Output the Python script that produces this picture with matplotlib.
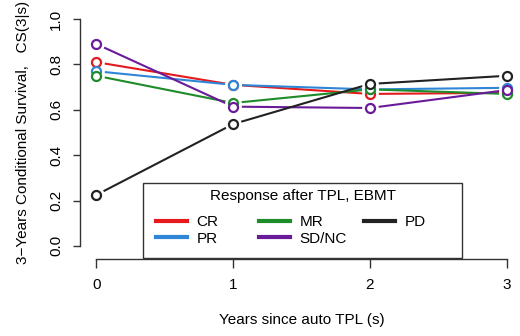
import matplotlib.pyplot as plt
from matplotlib.patches import Rectangle

plt.rcParams['font.family'] = ['Liberation Sans', 'DejaVu Sans']

years = [0, 1, 2, 3]
cr = [0.81, 0.71, 0.67, 0.675]
pr = [0.77, 0.71, 0.69, 0.697]
mr = [0.75, 0.63, 0.69, 0.67]
sdnc = [0.89, 0.614, 0.608, 0.687]
pd_ = [0.225, 0.537, 0.714, 0.75]

series = [cr, pr, mr, sdnc, pd_]
labels = ["CR", "PR", "MR", "SD/NC", "PD"]
colors = ["#E41A1C", "#2F86D6", "#1E8C28", "#6A1B9A", "#222222"]

W, H = 520, 336
fig = plt.figure(figsize=(W / 100, H / 100), dpi=100)
ax = fig.add_axes([80 / W, 81 / H, 443 / W, 245 / H])

handles = []
for vals, lab, col in zip(series, labels, colors):
    h, = ax.plot(years, vals, color=col, lw=1.5, label=lab, zorder=2)
    handles.append(h)
# white backing so the lines stop short of the circles, like R's type="b"
for vals in series:
    ax.plot(years, vals, ls='none', marker='o', ms=11, mfc='white', mec='white', zorder=3)
for vals, col in zip(series, colors):
    ax.plot(years, vals, ls='none', marker='o', ms=6.5, mfc='white', mec=col, mew=1.6, zorder=4)

ax.set_xlim(-0.12, 3.12)
ax.set_ylim(-0.04, 1.04)
ax.spines['top'].set_visible(False)
ax.spines['right'].set_visible(False)
ax.spines['left'].set_bounds(0, 1)
ax.spines['bottom'].set_bounds(0, 3)
ax.spines['bottom'].set_position(('outward', 3))
for s in ['left', 'bottom']:
    ax.spines[s].set_color('#333333')
    ax.spines[s].set_linewidth(1)
ax.set_xticks([0, 1, 2, 3])
ax.set_yticks([0.0, 0.2, 0.4, 0.6, 0.8, 1.0])
ax.set_yticklabels(["0.0", "0.2", "0.4", "0.6", "0.8", "1.0"], rotation=90, va='center')
ax.tick_params(axis='x', length=6.5, width=1, color='#333333', labelsize=11, pad=7)
ax.tick_params(axis='y', length=5, width=1, color='#333333', labelsize=11, pad=7)

ax.set_xlabel("Years since auto TPL (s)", fontsize=11, labelpad=15)
ax.set_ylabel("3\u2212Years Conditional Survival,   CS(3|s)", fontsize=11, labelpad=14)

# legend box drawn by hand, R style: frame, centred title, three equal columns
fig.patches.append(Rectangle((143 / W, 78 / H), 319 / W, 75 / H, transform=fig.transFigure,
                             fill=True, facecolor='white', edgecolor='#333333', lw=1, zorder=5))
fig.text(302.5 / W, 1 - 196 / H, "Response after TPL, EBMT", ha='center', va='center',
         fontsize=11, zorder=6)
col_x = [156, 259, 364]
col_items = [[0, 1], [2, 3], [4]]
for cx, idx in zip(col_x, col_items):
    lg = fig.legend(handles=[handles[i] for i in idx], labels=[labels[i] for i in idx],
                    loc='upper left', bbox_to_anchor=(cx / W, 1 - 215 / H),
                    frameon=False, fontsize=11, handlelength=2.0, handletextpad=0.65,
                    borderpad=0, borderaxespad=0, labelspacing=0.17)
    lg.set_zorder(6)
    for line in lg.get_lines():
        line.set_linewidth(3)

fig.savefig("out.png", dpi=100)
